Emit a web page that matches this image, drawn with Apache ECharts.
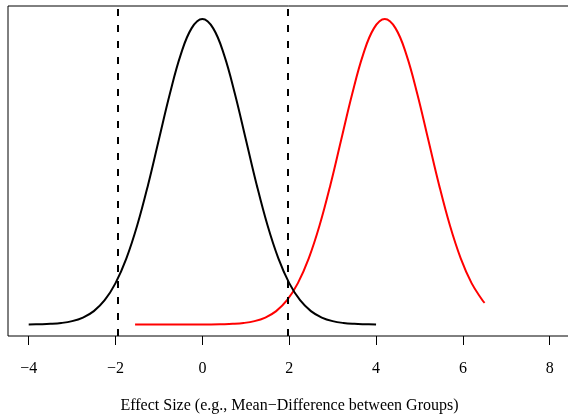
<!DOCTYPE html>
<html>
<head>
<meta charset="utf-8">
<script src="https://cdn.jsdelivr.net/npm/echarts@6/dist/echarts.min.js"></script>
<style>
html,body{margin:0;padding:0;background:#fff;}
#chart{width:568px;height:415px;}
</style>
</head>
<body>
<div id="chart"></div>
<script>
// Null distribution (black)
var nullX = [-4, -3.75, -3.5, -3.25, -3, -2.75, -2.5, -2.25, -2, -1.75, -1.5, -1.25, -1, -0.75, -0.5, -0.25, 0,
             0.25, 0.5, 0.75, 1, 1.25, 1.5, 1.75, 2, 2.25, 2.5, 2.75, 3, 3.25, 3.5, 3.75, 4];
var nullY = [0.0001, 0.0004, 0.0009, 0.0020, 0.0044, 0.0091, 0.0175, 0.0317, 0.0540, 0.0863, 0.1295, 0.1826, 0.2420, 0.3011, 0.3521, 0.3867, 0.3989,
             0.3867, 0.3521, 0.3011, 0.2420, 0.1826, 0.1295, 0.0863, 0.0540, 0.0317, 0.0175, 0.0091, 0.0044, 0.0020, 0.0009, 0.0004, 0.0001];
// Alternative distribution (red)
var altX = [-1.55, -0.55, 0.2, 0.45, 0.7, 0.95, 1.2, 1.45, 1.7, 1.95, 2.2, 2.45, 2.7, 2.95, 3.2, 3.45, 3.7, 3.95, 4.2,
            4.45, 4.7, 4.95, 5.2, 5.45, 5.7, 5.95, 6.2, 6.45, 6.5];
var altY = [0.0000, 0.0000, 0.0001, 0.0004, 0.0009, 0.0020, 0.0044, 0.0091, 0.0175, 0.0317, 0.0540, 0.0863, 0.1295, 0.1826, 0.2420, 0.3011, 0.3521, 0.3867, 0.3989,
            0.3867, 0.3521, 0.3011, 0.2420, 0.1826, 0.1295, 0.0863, 0.0540, 0.0317, 0.0283];
// Critical values (dashed lines)
var critValues = [-1.96, 1.96];
// Tick labels
var xTicks = [-4, -2, 0, 2, 4, 6, 8];
var xTitle = 'Effect Size (e.g., Mean\u2212Difference between Groups)';

function pairs(xs, ys) { return xs.map(function (x, i) { return [x, ys[i]]; }); }

var chart = echarts.init(document.getElementById('chart'), null, {renderer: 'canvas'});
var serif = 'Liberation Serif, Times New Roman, serif';
chart.setOption({
  animation: false,
  backgroundColor: '#fff',
  grid: {left: 8, top: 6, width: 570, height: 330, show: true, borderColor: '#000', borderWidth: 1,
         backgroundColor: 'transparent', containLabel: false, outerBoundsMode: 'none'},
  xAxis: {
    type: 'value', min: -4.4767, max: 8.651,
    axisLine: {show: false, onZero: false},
    splitLine: {show: false},
    axisTick: {show: true, inside: false, length: 9, lineStyle: {color: '#000', width: 1}, customValues: xTicks},
    axisLabel: {show: true, margin: 25, color: '#000', fontFamily: serif, fontSize: 16, customValues: xTicks,
      formatter: function (v) { return v < 0 ? '\u2212' + Math.abs(v) : String(v); }},
    name: xTitle, nameLocation: 'middle', nameGap: 62,
    nameTextStyle: {color: '#000', fontFamily: serif, fontSize: 16, padding: [0, 7, 0, 0]}
  },
  yAxis: {
    type: 'value', min: -0.0150, max: 0.4159, show: false, splitLine: {show: false}
  },
  series: [
    {
      type: 'line', data: pairs(nullX, nullY), smooth: 0.4, symbol: 'none',
      lineStyle: {color: '#000', width: 2}, z: 3,
      markLine: {
        silent: true, symbol: ['none', 'none'], label: {show: false},
        lineStyle: {color: '#000', width: 2, type: [7, 9]},
        data: critValues.map(function (v) { return {xAxis: v}; })
      }
    },
    {
      type: 'line', data: pairs(altX, altY), smooth: 0.4, symbol: 'none',
      lineStyle: {color: '#ff0000', width: 2}, z: 2
    }
  ]
});
</script>
</body>
</html>
